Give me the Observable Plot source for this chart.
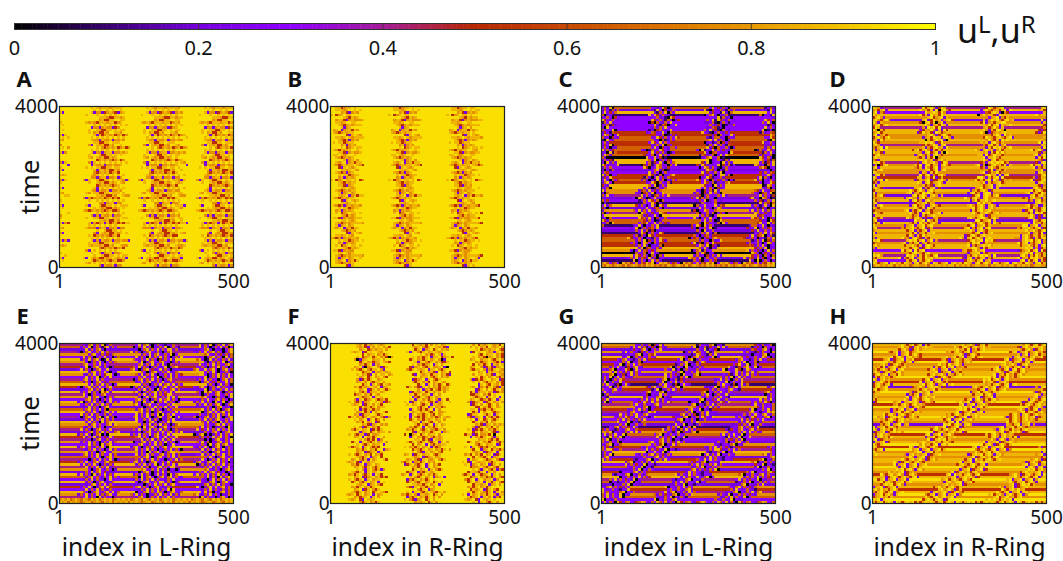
<!DOCTYPE html>
<html>
<head>
<meta charset="utf-8">
<script src="https://cdn.jsdelivr.net/npm/d3@7"></script>
<script src="https://cdn.jsdelivr.net/npm/@observablehq/plot@0.6"></script>
<style>
html,body{margin:0;background:#fff}
#chart{position:relative;width:1063px;height:561px;overflow:hidden;font-family:"Noto Sans",sans-serif;color:#111}
#key{position:absolute;left:957px;top:6px;font-size:34px;line-height:48px;white-space:nowrap}
#key sup{font-size:24px;line-height:24px;vertical-align:10px}
</style>
</head>
<body>
<div id="chart"><div id="key">u<sup>L</sup>,u<sup>R</sup></div></div>
<script>
const colorStops=[0,0.1,0.2,0.3,0.4,0.5,0.6,0.7,0.8,0.9,1];
const colorHexes=["#000000","#38006e","#7600dc","#9000ff","#a41c98","#b82800","#c84800","#da7000","#e89800","#f2c200","#ffff00"];
const levels=[0,0.1,0.21,0.3,0.41,0.52,0.66,0.78,0.87,0.95];
const colorTicks=[0,0.2,0.4,0.6,0.8,1];
const xTicks=[1,500];
const yTicks=[0,4000];

// band edges per stretch of rows: [last row, [from col, to col], ...]
const edgeL="2130421321042312403123201423102342130241302314201342031241320214";
const edgeR="1320241302134201423102341203142031240213204132402130241320143201";
const bandsA=[[64,[0,2],[11,25],[32,47],[54,66]]];
const bandsB=[[64,[2,11],[24,33],[46,56]]];
const bandsC=[[16,[0,6],[19,28],[40,50],[62,66]],[32,[0,5],[17,27],[38,49],[60,66]],[48,[0,3],[14,24],[36,46],[58,66]],[62,[12,23],[35,44],[56,66]],[64,[0,66]]];
const bandsD=[[16,[0,5],[19,29],[42,52],[64,66]],[32,[0,4],[17,28],[41,51],[62,66]],[48,[0,3],[14,25],[37,47],[59,66]],[62,[0,2],[12,23],[35,45],[56,66]],[64,[0,66]]];
const bandsE=[[62,[9,21],[29,45],[53,66]],[64,[0,66]]];
const bandsF=[[20,[10,22],[31,45],[54,66]],[44,[9,21],[30,44],[53,65]],[64,[8,20],[29,42],[52,65]]];
const centersG=[19,42,64,88,112];
const centersH=[17,39,63,87,112];

const stripesA="9999999999999999999999999999999999999999999999999999999999999999";
const noiseA=[
"989878887888878","999898998989989","827725787527877","989998998989898","998887558878888","999978558899889",
"878758887885787","989898989898989","927727877257878","989988558898988","998978558799887","828578785785785",
"989898989898989","877287782778778","999885588988898","729878558799877","989757878578578","999898989898989",
"827727882778787","989998558898988","879878558789878","995787875785785","728989898989898","999287782778778",
"898988558898898","828878558799877","997578785785875","878989898989898","997727882778277","728998558898988",
"899878558789878","995787875785578","829898989898989","987287782778772","879885588988898","998878558799877",
"727578785785758","899898989898989","997727882778787","829998558898988","989878558789878","875787875785578",
"999898989898989","727287782778772","899885588988898","998878558799877","827578285785758","998989898989898",
"877727882778277","998998558898988","729878558789878","895787875785578","999898989898989","827287782778772",
"989885588988898","878878558799877","997578785785758","729898989898989","899727882778277","998998558898988",
"829878558789878","985787875785578","879898989898989","997287782778772"];

const stripesB="9999999999999999999999999999999999999999999999999999999999999999";
const noiseB=[
"885788988","988878998","978527878","895789889","987587889","788527877","988789988","875787888","998278978",
"789278858","987578788","995289878","887898788","875727878","898857889","997827878","895789889","987587889",
"885278778","889878998","875787888","998278978","878927858","987578788","995289878","887898788","875727878",
"898857889","997827878","895789889","987587889","885278778","889878998","875787888","998278978","878927858",
"987578788","995289878","887898788","875727878","898857889","997827878","895789889","987587889","885278778",
"889878998","875787888","998278978","878927858","987578788","995289878","887898788","875727878","898857889",
"997827878","895789889","987587889","885278778","889878998","875787888","998278978","878927858","987578788","995289878"];

const stripesC="6281333333556655665608813235565887742318274836613215665587082136";
const noiseC=[
"36280332385026383526301","26316263218305226381053","38253621638063252318206","60231838526321036820326",
"23630562310853281623032","85326323853621630256381","16382050632638223610263","32615238216502386325201",
"20832626383236512038263","63238012056323836283510","25316236523820683210363","38620383260135225063238",
"62305326338526363852136","10832632061263838263026","36253853826302312605382","25380226380531638263162",
"36202263830532663825063","82635320162385326308123","23081638253620138205632","38625236038263165236028",
"62083382501236823601852","26351638026352880236316","30826236153820636528023","85232380526138623063852",
"26368502386325038626310","20316368250138652031632","36528263036825326380526","82603385216023683262038",
"25381620383526023851236","38206352620318260326385","26830238506326138526123","53263802635230826301863",
"32603820163263826305238","83256283526320536182652","20632056380238263052836","63823826315626385026323",
"23086201382538162632058","63512638536062538023632","02633850263223618265063","38265263138208530623823",
"52032832563082632038651","26382638326150238632638","60253086235238652602362","38625238203626103825623",
"23063856283053268203638","85252630126382630185220","32608365823826352630853","62382032638538508263126",
"23802635638252032638015","63826150263082365283263","28503632853638216032638","36162085363025623825680",
"85236302216380356203526","26380526385262633062381","36203863062381502638263","52638202326053863805216",
"38056326263820325263802","20382653530268162382635","63260382263850238620353","28536206306382623052638",
"36382652825023866380263","80263038362635022635820","78635630867537265868038","76876787686787676878676"];

const stripesD="4838727848877874788788478774578828727827878842874878847883748383";
const noiseD=[
"98729589725982598578928","78589297858290897528975","89275978985972658982075","97889582978590797885298",
"58972895789283789275889","89758978925978378958279","97285089580792592785889","78958997278598287958928",
"59872989592785797285798","97085358797282958972859","78952597852985789702578","89278589725897575898297",
"58975892785988289725987","78296085798920797582989","97588989725987828975892","89725857982897589582798",
"75892982758978297285989","82795895897285858972897","97852728957928097828597","58927975828975882957988",
"89758285907892889752859","75289897825897972895878","98957528978972598572898","27058978592895882897589",
"89275829758927857289758","75897895792897592785892","98728728597892587952897","28958958927589725897829",
"97258827859258997285892","85892972587892558972895","57289828957897279285789","92785752895789289527859",
"89758892758925789578928","58975897289727858972589","92789278598985728957289","85895895897289728589289",
"72897728957897589728975","95728957289788279588978","89587895872979785289785","72897289578228975897589",
"97589758298589589728975","58927589278577285897892","89758975829895789289758","28578285789878972589725",
"97589758972522785897589","89297892975899578928975","75829758297858972897589","92789278958975892789589",
"89758897589258589275892","75892758928972897589789","92785927858897589275897","85972859725897589289758",
"72897728975285897289589","98958989589279275897892","58927589278577859892589","89758897582898589275789",
"72589725897899728589892","95892958927855897892578","87589875892788927589792","98972989728597589275897",
"75892758927859897852892","89285892858975897589278","98578928978598728958972","78878788687878678877868"];

const stripesE="4624738745287346852847387268342876428547384726458472863825387467";
const noiseE=[
"32682638026382683026321","26380263168263026382603","82636820322036826382638","20268326383682630268326",
"36832635262638268326380","82630263823026826308263","26382683018263263826305","30263820362638026832683",
"68326382633682638263820","23802683262026382630263","38263026833826830268352","26836382032630268326382",
"32638263588302638263820","82638026382638326380263","36826382633026826382630","26302683526238268326382",
"38263826303826302638268","20368263832683026382632","36826380263263826308263","26382630858268302636826",
"83026326832638263826358","38268320263303826832638","36826302638326826302638","28026382630382638263082",
"32638263826268302683263","82630268323026382638263","36826382602682638263026","26383026838368263026832",
"82638263262638263826380","30268326803826032682638","26382638262683263826302","38263082633026830263826",
"26836326828263826382630","32638263022630826830268","82630268353826382638263","36826382632683026832638",
"26383026803026382638268","82638263528368263026832","30268326382638263826380","26382630263826032682638",
"38263082682683263826302","26836326383026830263826","32638263028263826382630","82630268322630826830268",
"36826382633826382638263","26383026832683026832638","33026382638302638263826","26383268326836826302683",
"38263820262638263826380","82638263823826032682638","30268326302683263826302","26382683523026830263826",
"38263082638263826382630","26836326382630826830268","32638263203826382638263","82630268322683026832638",
"36826382633026382638268","26383026838368263026832","82638263262638263826380","63026832683826032682638",
"26382638262683263826302","38263082633026830263826","78786787687687867878678","87868787678867876878687"];

const stripesF="9999999999999999999999999999999999999999999999999999999999999999";
const noiseF=[
"87958789878598785979897","98785297989785987897589","78957878897589278958978","87892598998782897589789",
"59788978589897857982897","89578958978507897858928","70278997889758978589789","58978578987582897589785",
"97858928798978578928975","78920789972585278975897","89758975889727589878928","57892878878958978529789",
"89785297988978529878958","78958978975897889758978","97258589978925789289758","78979758897858978597898",
"58928975987958928978589","97858789879278589752897","78925897985897927859758","89758278897825878958978",
"57897859878958978928975","98578928989275897589789","72895789857858928978589","89758278998972578925897",
"87892589798589789758928","59785897889758928978575","89275885872897585892978","78958297998578978975897",
"97825889985892897858975","58978579878975278929758","89789289579758978587897","78597892588928975897589",
"97852789787859758928978","89725897859785892978589","75897892585897858975897","92789589788975289788589",
"89758825977859078958978","78929785899728978579758","89758592788958529878978","58928975897897858975897",
"89758978892597892975878","85789289757589785897892","97858978599278958758978","78925789288975289789758",
"89758978597859789258978","87589278958789257897859","78975829789985789752897","87895298788975892785897",
"97858927897892589758928","78975897589785892897857","89728975827589789289758","87589289785789275897858",
"97858975892985789289758","78925789785758975897892","89758928978892758978589","58975897892985897589789",
"87892789758878589789258","97858978589975289785897","78925897589897589278958","87589789589875892897589",
"87895897892978978589728","97857892897927589785897","87895298789897527895897","97589785897878958978928"];

const stripesG="7627285356372645175428364754273621576432754872583625784627547638";
const noiseG=[
"32623605382163326802315","28382613520632380326153","53268203638263281325026","28363215263302638563281",
"32680326581286321638203","23802635326328630268352","32683212638238026802633","26380326023326832153862",
"32802638361263803262358","26383215268328026308213","32680323850286328130263","28362638263326803263852",
"32680325138263826352083","26380382632283632163803","38263026385326803261522","63280263283328026382633",
"26383215038263832150383","52680322380263526832683","23626332683213802263835","26803263832636823268032",
"30263280263503228362638","26326383218263326803253","32326803253822638263826","28362638502328026335385",
"32680321638263832623268","26382635263326803252635","32803213802263826303268","26380326382326832123868",
"32682635026283626383268","28363213853326803263853","32680326302263826352638","26382638583328032122632",
"32803212635263803263268","26380326082326826352836","32682635216283632153268","28363213805326803232638",
"68032632632638263832803","38263538032803218263803","03212635263803263268263","26032683268263528363263",
"63580228363213326803263","13263326803263263826352","85226382635328032122638","38328032122638032632803",
"26380326326826352638038","32682635283632133268263","28363213326803262836328","32680326263826353268033",
"26382635328032122638263","32803212263803263280326","26380326326826352638032","32682635283632132638033",
"28363213326803263268263","32680326263826352836328","26382635328032123268032","32803212263803262638263",
"26380326328032123268032","26826352638033263826363","36321328363263268262832","80326283632326803263826",
"26353268032638263280326","21226382632803226380326","26328032263803263268263","38263085367325687326386"];

const stripesH="8789785978788975827987895978898727895878959787887987589878589798";
const noiseH=[
"98589579285897897258957","78978528978988975897589","58972589788978592785897","75892789578978589758927",
"92789589758897258975827","89589728978758978958927","78925789287978527897588","97858975892897258975897",
"89725897589785978972897","78592789758972858958927","97858975892895897278927","89725897589789257892785",
"75897892785978589789728","92858978589897258975897","89589728978758927892789","78952789758927895897589",
"97858975892895897278928","89725897589789257897289","75892789578978589789587","92789589758897258978928",
"89589728972758927897858","78925789278927895897897","97858928975858972897589","89725897589789257892789",
"75892789278978589758978","92789589758897258975897","89589728972758927892789","78925789258927895897589",
"97858975897895897289757","89725897589789257892589","75892789278978589758978","92789589758897258975892",
"89589728978758927892789","78925789258927895897589","97858975897895897289785","89725897589789257892589",
"75892789278978589758978","92789589758895897289785","89589728972789257892589","78925789878978589758928",
"97858928975897258975897","89725897589758927892789","75892789278927895897589","92789589758895897289789",
"89589728978789257892589","78925789258978589758972","97858975897897258975892","89725897589758927892789",
"75892789278927895897589","92789589758895897289728","89589728972789257892589","78925789258978589758978",
"97858975897897258975892","89725897589758927892789","75892789278927895897589","92789589758895897289789",
"89589728978789257892589","78925789258978589758972","97858975897897258975897","89725897589758927892897",
"75892789278927895897289","92789578978589758978978","89858989289589858982589","85895898298589895858989"];

const stripesSets={A:stripesA,B:stripesB,C:stripesC,D:stripesD,E:stripesE,F:stripesF,G:stripesG,H:stripesH};
const noiseSets={A:noiseA,B:noiseB,C:noiseC,D:noiseD,E:noiseE,F:noiseF,G:noiseG,H:noiseH};

const colorOpts={type:"linear",domain:colorStops,range:colorHexes};
const font='"Noto Sans",sans-serif';
const chart=document.getElementById("chart");
const cols=66;

function rowBands(p,r){
  if(p.centers){
    if(r===63)return [[0,66]];
    return p.centers.map(c=>[c-r-6,c-r+6]);
  }
  return p.bands.find(b=>r<b[0]).slice(1);
}
function cells(p){
  const stripes=stripesSets[p.letter],noise=noiseSets[p.letter],rows=stripes.length,out=[];
  for(let r=0;r<rows;r++){
    const vals=Array.from(stripes[r].repeat(cols));
    const row=noise[r];
    let k=0;
    for(const [a,b] of rowBands(p,r)){
      const l=Math.max(0,a===0?0:a+(+edgeL[r])-2),h=Math.min(cols,b===66?66:b+(+edgeR[r])-2);
      if(p.restart)k=0;
      for(let c=a===0?0:a+(+edgeL[r])-2;c<h;c++){
        if(c>=l)vals[c]=row[k%row.length];
        k++;
      }
    }
    vals.forEach((ch,c)=>out.push({x1:1+c/cols*499,x2:1+(c+1)/cols*499,y1:4000*(1-(r+1)/rows),y2:4000*(1-r/rows),u:levels[+ch]}));
  }
  return out;
}

const panels=[
 {letter:"A",bands:bandsA,restart:true,left:59,top:65,row:0,ylabel:"time"},
 {letter:"B",bands:bandsB,restart:true,left:330,top:65,row:0},
 {letter:"C",bands:bandsC,left:601,top:65,row:0},
 {letter:"D",bands:bandsD,left:872,top:65,row:0},
 {letter:"E",bands:bandsE,left:59,top:302,row:1,ylabel:"time",xlabel:"index in L-Ring"},
 {letter:"F",bands:bandsF,left:330,top:302,row:1,xlabel:"index in R-Ring"},
 {letter:"G",centers:centersG,left:601,top:302,row:1,xlabel:"index in L-Ring"},
 {letter:"H",centers:centersH,left:872,top:302,row:1,xlabel:"index in R-Ring"}
];

for(const p of panels){
  const marginBottom=p.row?58:30;
  const innerH=p.row?160:161;
  const marks=[
    Plot.rect(cells(p),{x1:"x1",x2:"x2",y1:"y1",y2:"y2",fill:"u",shapeRendering:"crispEdges"}),
    Plot.frame({stroke:"#222",strokeWidth:1.2}),
    Plot.axisX(xTicks,{tickSize:0,tickPadding:7,fontSize:19,label:null,tickFormat:String,fill:"#111"}),
    Plot.axisY(yTicks,{tickSize:0,tickPadding:1,fontSize:19,label:null,tickFormat:String,fill:"#111"}),
    Plot.text([p.letter],{frameAnchor:"top-left",dx:-43,dy:-35,fontSize:22,fontWeight:"bold",textAnchor:"start",lineAnchor:"top",fill:"#111"})
  ];
  if(p.xlabel)marks.push(Plot.text([p.xlabel],{frameAnchor:"bottom",dy:52,fontSize:24.5,fill:"#111",lineAnchor:"bottom"}));
  if(p.ylabel)marks.push(Plot.text([p.ylabel],{frameAnchor:"left",dx:-29,fontSize:26,rotate:-90,textAnchor:"middle",fill:"#111"}));
  const svg=Plot.plot({
    width:55+174+20,height:41+innerH+marginBottom,
    marginLeft:55,marginRight:20,marginTop:41,marginBottom,
    x:{domain:[1,500],axis:null},
    y:{domain:[0,4000],axis:null},
    color:colorOpts,
    marks,
    style:{position:"absolute",left:(p.left-55)+"px",top:p.top+"px",background:"transparent",overflow:"visible",fontFamily:font}
  });
  const g=svg.querySelector('g[aria-label="rect"]');
  if(g)g.style.filter="blur(0.45px)";
  chart.appendChild(svg);
}

const barSteps=d3.range(0,1,0.004);
const bar=Plot.plot({
  width:1063,height:62,marginLeft:14,marginRight:128,marginTop:23,marginBottom:33,
  x:{domain:[0,1],axis:null},
  y:{axis:null},
  color:colorOpts,
  marks:[
    Plot.rectY(barSteps,{x1:d=>d,x2:d=>d+0.0045,y:1,fill:d=>d+0.002}),
    Plot.ruleX(colorTicks,{stroke:"#333",strokeOpacity:0.8}),
    Plot.frame({stroke:"#333"}),
    Plot.axisX(colorTicks,{tickSize:0,tickPadding:11,fontSize:20,label:null,tickFormat:d=>String(d),fill:"#111"})
  ],
  style:{position:"absolute",left:"0px",top:"0px",background:"transparent",overflow:"visible",fontFamily:font}
});
chart.appendChild(bar);
</script>
</body>
</html>
